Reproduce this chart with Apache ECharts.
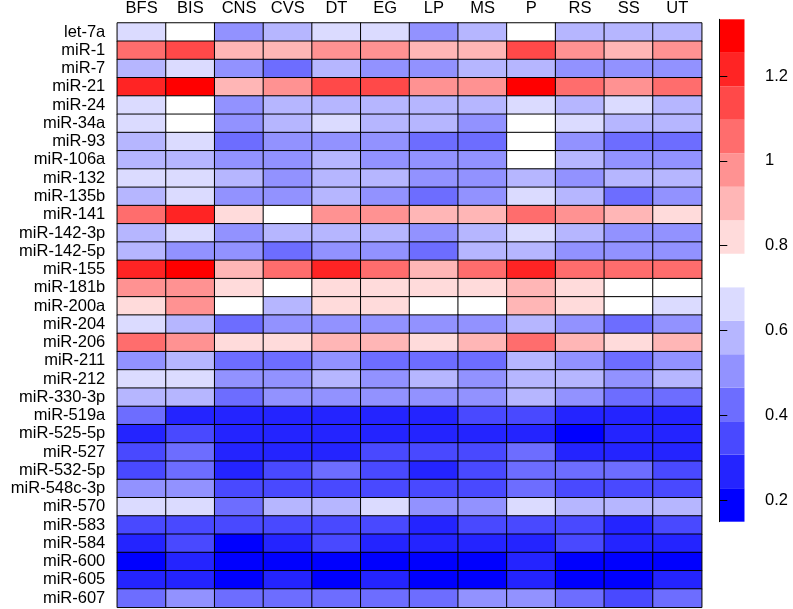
<!DOCTYPE html>
<html>
<head>
<meta charset="utf-8">
<script src="https://cdn.jsdelivr.net/npm/echarts@6/dist/echarts.min.js"></script>
<style>html,body{margin:0;padding:0;background:#fff;}#chart{width:793px;height:609px;}</style>
</head>
<body>
<div id="chart"></div>
<script>
const columns = ['BFS','BIS','CNS','CVS','DT','EG','LP','MS','P','RS','SS','UT'];
const rows = ['let-7a','miR-1','miR-7','miR-21','miR-24','miR-34a','miR-93','miR-106a','miR-132','miR-135b','miR-141','miR-142-3p','miR-142-5p','miR-155','miR-181b','miR-200a','miR-204','miR-206','miR-211','miR-212','miR-330-3p','miR-519a','miR-525-5p','miR-527','miR-532-5p','miR-548c-3p','miR-570','miR-583','miR-584','miR-600','miR-605','miR-607'];
// one row per miRNA, columns in the order of `columns`
const values = [
  [0.66,0.74,0.51,0.58,0.66,0.66,0.51,0.58,0.74,0.58,0.58,0.58],
  [1.06,1.14,0.90,0.90,0.98,0.98,0.90,0.90,1.14,0.98,0.90,0.98],
  [0.58,0.66,0.51,0.43,0.58,0.51,0.51,0.58,0.58,0.51,0.51,0.51],
  [1.22,1.30,0.90,0.98,1.14,1.14,0.98,0.98,1.30,1.06,0.98,1.06],
  [0.66,0.74,0.51,0.58,0.58,0.58,0.58,0.58,0.66,0.58,0.66,0.58],
  [0.66,0.74,0.51,0.58,0.66,0.58,0.58,0.51,0.74,0.66,0.58,0.58],
  [0.58,0.66,0.43,0.51,0.51,0.51,0.43,0.43,0.74,0.51,0.43,0.43],
  [0.58,0.58,0.51,0.51,0.58,0.51,0.51,0.51,0.74,0.58,0.51,0.51],
  [0.66,0.66,0.58,0.51,0.58,0.58,0.51,0.51,0.58,0.51,0.58,0.58],
  [0.58,0.66,0.51,0.51,0.58,0.51,0.43,0.51,0.66,0.58,0.43,0.51],
  [1.06,1.22,0.82,0.74,0.98,0.98,0.90,0.90,1.06,0.98,0.90,0.82],
  [0.58,0.66,0.51,0.58,0.58,0.58,0.51,0.58,0.66,0.58,0.51,0.51],
  [0.58,0.51,0.51,0.43,0.51,0.51,0.43,0.58,0.58,0.51,0.51,0.51],
  [1.22,1.30,0.90,1.06,1.22,1.06,0.90,1.06,1.22,1.06,1.06,1.06],
  [0.98,0.98,0.82,0.74,0.82,0.82,0.82,0.82,0.90,0.82,0.74,0.74],
  [0.82,0.98,0.74,0.58,0.82,0.82,0.74,0.74,0.90,0.82,0.74,0.66],
  [0.66,0.58,0.43,0.51,0.51,0.51,0.51,0.51,0.58,0.51,0.43,0.51],
  [1.06,0.98,0.82,0.82,0.90,0.90,0.82,0.90,1.06,0.90,0.82,0.90],
  [0.51,0.58,0.43,0.43,0.51,0.43,0.43,0.43,0.58,0.51,0.43,0.51],
  [0.66,0.66,0.51,0.51,0.58,0.51,0.58,0.51,0.58,0.58,0.51,0.58],
  [0.58,0.58,0.43,0.51,0.51,0.51,0.51,0.51,0.58,0.51,0.43,0.43],
  [0.43,0.27,0.27,0.27,0.27,0.27,0.27,0.35,0.35,0.27,0.27,0.27],
  [0.27,0.35,0.27,0.27,0.27,0.27,0.27,0.27,0.27,0.19,0.27,0.27],
  [0.35,0.43,0.27,0.27,0.27,0.35,0.35,0.35,0.43,0.27,0.27,0.27],
  [0.35,0.43,0.27,0.35,0.43,0.35,0.27,0.35,0.43,0.43,0.43,0.35],
  [0.51,0.51,0.35,0.35,0.35,0.35,0.35,0.35,0.43,0.35,0.35,0.35],
  [0.66,0.66,0.43,0.58,0.58,0.66,0.51,0.51,0.66,0.58,0.58,0.58],
  [0.35,0.35,0.35,0.35,0.35,0.35,0.27,0.35,0.35,0.35,0.27,0.35],
  [0.27,0.35,0.19,0.27,0.35,0.27,0.27,0.27,0.27,0.35,0.27,0.27],
  [0.19,0.27,0.19,0.19,0.19,0.19,0.19,0.19,0.27,0.19,0.19,0.19],
  [0.27,0.27,0.19,0.27,0.19,0.27,0.19,0.19,0.27,0.19,0.19,0.27],
  [0.43,0.51,0.43,0.43,0.43,0.43,0.43,0.51,0.51,0.43,0.35,0.43]
];
const scaleBreaks = [0.149,0.228,0.307,0.386,0.465,0.544,0.623,0.702,0.781,0.860,0.939,1.018,1.097,1.176,1.255,1.334];
const scaleTicks = [0.2,0.4,0.6,0.8,1,1.2];

const palette = ['#0000FF','#2424FF','#4949FF','#6D6DFF','#9292FF','#B6B6FF','#DBDBFF','#FFFFFF',
                 '#FFDBDB','#FFB6B6','#FF9292','#FF6D6D','#FF4949','#FF2424','#FF0000'];
const FONT = 'Liberation Sans, Arial, sans-serif';

const heat = [];
rows.forEach((r, i) => columns.forEach((c, j) => heat.push([j, i, values[i][j]])));
const pieces = palette.map((col, i) => ({gte: scaleBreaks[i], lt: scaleBreaks[i + 1], color: col}));
const bands = palette.map((col, i) => [scaleBreaks[i], scaleBreaks[i + 1], i]);

const chart = echarts.init(document.getElementById('chart'), null, {renderer: 'canvas'});
chart.setOption({
  backgroundColor: '#fff',
  animation: false,
  grid: [
    {left: 117.3, top: 22.7, width: 584.4, height: 584.6},
    {left: 719.3, top: 19.3, width: 25.7, height: 502.4}
  ],
  xAxis: [
    {type: 'category', data: columns, position: 'top', gridIndex: 0,
     axisLine: {show: false}, axisTick: {show: false}, splitLine: {show: false},
     axisLabel: {interval: 0, fontFamily: FONT, fontSize: 16.5, color: '#000', margin: 6}},
    {type: 'value', gridIndex: 1, min: 0, max: 1, show: false}
  ],
  yAxis: [
    {type: 'category', data: rows, inverse: true, gridIndex: 0,
     axisLine: {show: false}, axisTick: {show: false}, splitLine: {show: false},
     axisLabel: {interval: 0, fontFamily: FONT, fontSize: 16.5, color: '#000', margin: 12}},
    {type: 'value', gridIndex: 1, position: 'right', min: scaleBreaks[0], max: scaleBreaks[scaleBreaks.length - 1],
     splitLine: {show: false}, z: 10,
     axisLine: {show: true, lineStyle: {color: '#000', width: 1}},
     axisTick: {show: true, length: 8, customValues: scaleTicks, lineStyle: {color: '#000', width: 1}},
     axisLabel: {customValues: scaleTicks, margin: 20, fontFamily: FONT, fontSize: 16.5, color: '#000',
                 formatter: v => String(+Number(v).toFixed(1))}}
  ],
  visualMap: {type: 'piecewise', show: false, seriesIndex: 0, dimension: 2, pieces: pieces},
  series: [
    {type: 'heatmap', xAxisIndex: 0, yAxisIndex: 0, data: heat,
     itemStyle: {borderColor: '#000', borderWidth: 1}, emphasis: {disabled: true}},
    {type: 'custom', xAxisIndex: 1, yAxisIndex: 1, data: bands, silent: true, clip: false,
     renderItem: (params, api) => {
       const p1 = api.coord([0, api.value(1)]);
       const p2 = api.coord([1, api.value(0)]);
       return {type: 'rect', shape: {x: p1[0], y: p1[1], width: p2[0] - p1[0] - 0.5, height: p2[1] - p1[1]},
               style: {fill: palette[api.value(2)]}};
     }}
  ]
});
</script>
</body>
</html>
